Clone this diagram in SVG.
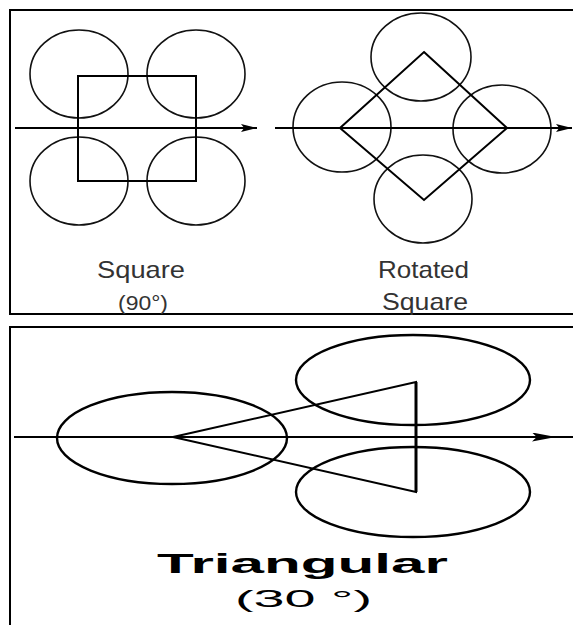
<svg xmlns="http://www.w3.org/2000/svg" width="573" height="625" viewBox="0 0 573 625">
<style>
.frame{fill:none;stroke:#000;stroke-width:2}
.c{fill:none;stroke:#111;stroke-width:1.6}
.c2{fill:none;stroke:#000;stroke-width:2.4}
.shape{fill:none;stroke:#000;stroke-width:2;stroke-linejoin:miter}
.axis{stroke:#000;stroke-width:2;fill:none}
.t{font-family:"Liberation Sans",Arial,sans-serif;fill:#333}
.tb{font-family:"Liberation Sans",Arial,sans-serif;fill:#000}
</style>
<defs>
<marker id="ah" viewBox="0 0 10 10" refX="10" refY="5" markerWidth="16" markerHeight="8" markerUnits="userSpaceOnUse" orient="auto" preserveAspectRatio="none">
<path d="M0,0 L10,5 L0,10 L2,5 Z" fill="#000"/>
</marker>
<marker id="ah2" viewBox="0 0 10 10" refX="10" refY="5" markerWidth="24" markerHeight="9" markerUnits="userSpaceOnUse" orient="auto" preserveAspectRatio="none">
<path d="M0,0 L10,5 L0,10 L2,5 Z" fill="#000"/>
</marker>
</defs>
<rect width="573" height="625" fill="#fff"/>
<g id="frames">
<path class="frame" d="M580,10 H10 V314 H580"/>
<path class="frame" d="M580,327 H10 V630"/>
</g>
<g id="square">
<ellipse class="c" cx="79" cy="74" rx="49" ry="44"/>
<ellipse class="c" cx="196" cy="74" rx="49" ry="44"/>
<ellipse class="c" cx="79" cy="181" rx="49" ry="44"/>
<ellipse class="c" cx="196" cy="181" rx="49" ry="44"/>
<rect class="shape" x="78" y="76" width="118" height="105"/>
<text class="t" x="97" y="278" font-size="24" textLength="88" lengthAdjust="spacingAndGlyphs">Square</text>
<text class="t" x="118" y="310" font-size="21" textLength="50" lengthAdjust="spacingAndGlyphs">(90°)</text>
</g>
<g id="rotated-square">
<ellipse class="c" cx="421" cy="57" rx="50" ry="44"/>
<ellipse class="c" cx="342" cy="127" rx="49" ry="45"/>
<ellipse class="c" cx="502" cy="129" rx="49" ry="44"/>
<ellipse class="c" cx="423" cy="199" rx="49" ry="44"/>
<path class="shape" d="M424,52 L507,128 L424,200 L340,128 Z"/>
<text class="t" x="378" y="278" font-size="24" textLength="91" lengthAdjust="spacingAndGlyphs">Rotated</text>
<text class="t" x="382" y="310" font-size="24" textLength="86" lengthAdjust="spacingAndGlyphs">Square</text>
</g>
<g id="triangular">
<ellipse class="c2" cx="172" cy="438" rx="115" ry="46"/>
<ellipse class="c2" cx="413" cy="380" rx="117" ry="45"/>
<ellipse class="c2" cx="413" cy="492" rx="117" ry="45"/>
<path class="shape" d="M173,437 L416,382 L416,492 Z"/>
<path d="M416,382 V492" stroke="#000" stroke-width="3"/>
<text class="tb" x="157" y="573" font-size="28" font-weight="bold" textLength="291" lengthAdjust="spacingAndGlyphs">Triangular</text>
<text class="tb" x="235" y="607" font-size="24" textLength="137" lengthAdjust="spacingAndGlyphs">(30 °)</text>
</g>
<g id="connectors">
<line class="axis" x1="15" y1="128" x2="257" y2="128" marker-end="url(#ah)"/>
<line class="axis" x1="275" y1="128" x2="572" y2="128" marker-end="url(#ah)"/>
<line class="axis" x1="14" y1="437" x2="573" y2="437"/>
<line class="axis" x1="530" y1="437" x2="556" y2="437" marker-end="url(#ah2)"/>
</g>
</svg>
